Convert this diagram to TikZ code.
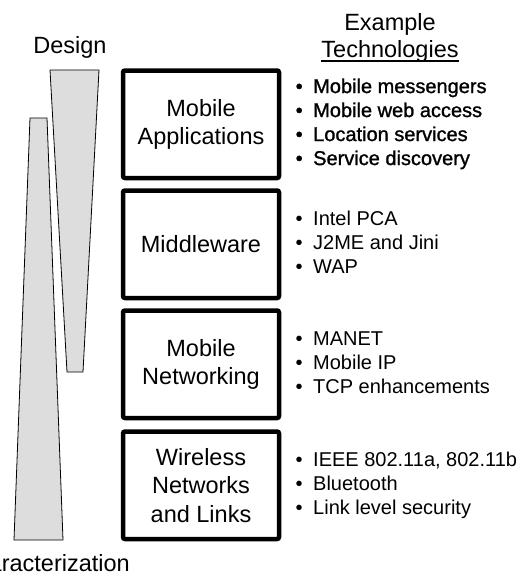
\documentclass[tikz,border=0pt]{standalone}
\usepackage{fontspec}
\setmainfont{Liberation Sans}
\newfontfamily\heavylist[FakeBold=1.2]{Liberation Sans}
\definecolor{wedgegray}{HTML}{DDDDDD}
\begin{document}
\begin{tikzpicture}[x=1pt,y=-1pt,
  layer/.style={draw, line width=4.5pt, rounded corners=2pt,
    minimum width=156pt, minimum height=107.5pt, inner sep=0pt,
    align=center, font=\fontsize{23.5}{28.5}\selectfont},
  wedge/.style={draw, fill=wedgegray, line width=0.8pt},
  techlist/.style={anchor=west, inner sep=0pt, font=\fontsize{20}{24}\selectfont},
  heading/.style={anchor=base, inner sep=0pt, font=\fontsize{23.5}{27}\selectfont}]
\useasboundingbox (0,0) rectangle (527,573);

% design / characterization wedges
\draw[wedge] (50,70) -- (99,70) -- (83,372) -- (67,372) -- cycle;
\draw[wedge] (30,118) -- (47,118) -- (63,540) -- (14,540) -- cycle;
\node[heading] (design) at (70,53) {Design};
\node[heading, anchor=base east] (charact) at (130,571) {Characterization};

% layer stack
\node[layer] (app)  at (201,124.25) {Mobile\\Applications};
\node[layer] (mid)  at (201,244.25) {Middleware};
\node[layer] (net)  at (201,364.25) {Mobile\\Networking};
\node[layer] (wire) at (201,485.25) {Wireless\\Networks\\and Links};

% column heading
\node[heading] (example) at (390,30) {Example};
\node[heading] (tech) at (390,57) {Technologies};
\draw[line width=1.4pt] ([yshift=-4pt]tech.base west) -- ([yshift=-4pt]tech.base east);

% technology lists
\node[techlist, font=\heavylist\fontsize{20}{24}\selectfont] (applist) at (295.5,124.25) {\begin{tabular}{@{}l@{\hspace{10.5pt}}l@{}}
\textbullet & Mobile messengers\\
\textbullet & Mobile web access\\
\textbullet & Location services\\
\textbullet & Service discovery
\end{tabular}};
\node[techlist] (midlist) at (295.5,244.25) {\begin{tabular}{@{}l@{\hspace{10.5pt}}l@{}}
\textbullet & Intel PCA\\
\textbullet & J2ME and Jini\\
\textbullet & WAP
\end{tabular}};
\node[techlist] (netlist) at (295.5,364.25) {\begin{tabular}{@{}l@{\hspace{10.5pt}}l@{}}
\textbullet & MANET\\
\textbullet & Mobile IP\\
\textbullet & TCP enhancements
\end{tabular}};
\node[techlist] (wirelist) at (295.5,485.25) {\begin{tabular}{@{}l@{\hspace{10.5pt}}l@{}}
\textbullet & IEEE 802.11a, 802.11b\\
\textbullet & Bluetooth\\
\textbullet & Link level security
\end{tabular}};
\end{tikzpicture}
\end{document}
